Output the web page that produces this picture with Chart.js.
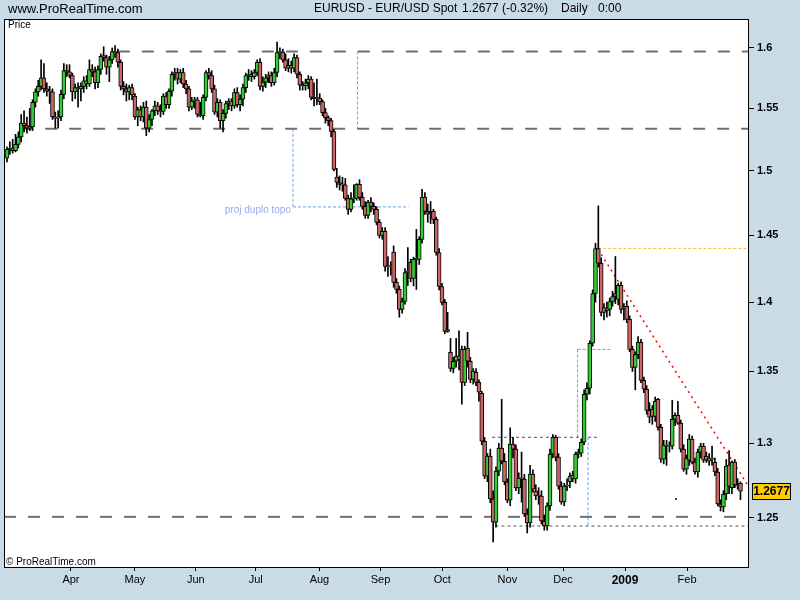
<!DOCTYPE html>
<html lang="en">
<head>
    <meta charset="UTF-8">
    <title>EURUSD - EUR/USD Spot Daily</title>
    <script src="https://cdn.jsdelivr.net/npm/chart.js"></script>
    <style>
        html, body { margin: 0; padding: 0; background: #c9dbe6; }
        #wrap { width: 800px; height: 600px; }
    </style>
</head>
<body>
<div id="wrap"><canvas id="priceChart" width="800" height="600"></canvas></div>
<script>
    // Daily candles (roughly Mar 2008 .. Feb 2009)
    const openP = [
        1.5100,1.5170,1.5180,1.5160,1.5210,1.5270,1.5380,1.5360,1.5340,1.5350,
        1.5550,1.5635,1.5680,1.5750,1.5660,1.5640,1.5635,1.5430,1.5420,1.5430,
        1.5615,1.5810,1.5800,1.5770,1.5635,1.5670,1.5660,1.5680,1.5725,1.5700,
        1.5820,1.5800,1.5710,1.5820,1.5935,1.5920,1.5840,1.5900,1.5970,1.5960,
        1.5880,1.5680,1.5660,1.5635,1.5670,1.5600,1.5430,1.5490,1.5430,1.5510,
        1.5340,1.5410,1.5480,1.5520,1.5480,1.5475,1.5600,1.5530,1.5640,1.5780,
        1.5795,1.5740,1.5795,1.5700,1.5660,1.5510,1.5560,1.5570,1.5450,1.5440,
        1.5590,1.5795,1.5770,1.5660,1.5470,1.5550,1.5400,1.5460,1.5540,1.5560,
        1.5520,1.5630,1.5530,1.5575,1.5670,1.5770,1.5780,1.5760,1.5795,1.5880,
        1.5680,1.5715,1.5750,1.5770,1.5710,1.5795,1.5960,1.5965,1.5900,1.5830,
        1.5855,1.5830,1.5920,1.5780,1.5690,1.5685,1.5710,1.5740,1.5590,1.5580,
        1.5585,1.5555,1.5465,1.5425,1.5400,1.5313,1.4950,1.4908,1.4893,1.4890,
        1.4784,1.4699,1.4780,1.4785,1.4893,1.4792,1.4722,1.4653,1.4755,1.4722,
        1.4699,1.4599,1.4500,1.4530,1.4265,1.4262,1.4374,1.4146,1.4094,1.3947,
        1.4005,1.4220,1.4296,1.4176,1.4318,1.4318,1.4469,1.4795,1.4684,1.4662,
        1.4684,1.4622,1.4370,1.4116,1.3998,1.3787,1.3636,1.3522,1.3572,1.3610,
        1.3657,1.3423,1.3664,1.3572,1.3444,1.3494,1.3423,1.3346,1.3014,1.2778,
        1.2912,1.2625,1.2473,1.2811,1.2967,1.2878,1.2738,1.2618,1.2994,1.2960,
        1.2698,1.2765,1.2758,1.2526,1.2467,1.2791,1.2678,1.2645,1.2645,1.2480,
        1.2447,1.2579,1.2926,1.3041,1.2906,1.2711,1.2605,1.2711,1.2740,1.2785,
        1.2758,1.2926,1.2933,1.3007,1.3339,1.3381,1.3701,1.4064,1.4400,1.4289,
        1.3961,1.3940,1.3947,1.4005,1.4064,1.4020,1.4124,1.3955,1.3970,1.3874,
        1.3657,1.3529,1.3620,1.3708,1.3437,1.3374,1.3227,1.3234,1.3185,1.3304,
        1.3110,1.2892,1.2987,1.2987,1.2980,1.3165,1.3193,1.3138,1.2960,1.2825,
        1.2885,1.3028,1.2872,1.2805,1.2940,1.2981,1.2912,1.2899,1.2892,1.2871,
        1.2805,1.2592,1.2572,1.2658,1.2852,1.2700,1.2872,1.2718,1.2730
    ];
    const highP = [
        1.5190,1.5230,1.5250,1.5290,1.5310,1.5450,1.5480,1.5430,1.5500,1.5570,
        1.5660,1.5730,1.5900,1.5870,1.5710,1.5680,1.5660,1.5470,1.5480,1.5650,
        1.5870,1.5860,1.5860,1.5790,1.5700,1.5710,1.5710,1.5760,1.5770,1.5900,
        1.5860,1.5840,1.5850,1.5950,1.6010,1.5940,1.5930,1.6000,1.6020,1.5990,
        1.5900,1.5720,1.5700,1.5690,1.5700,1.5620,1.5510,1.5520,1.5550,1.5560,
        1.5450,1.5490,1.5560,1.5550,1.5530,1.5620,1.5630,1.5660,1.5800,1.5830,
        1.5830,1.5820,1.5830,1.5730,1.5680,1.5590,1.5590,1.5590,1.5550,1.5610,
        1.5810,1.5830,1.5810,1.5690,1.5580,1.5570,1.5490,1.5560,1.5580,1.5580,
        1.5660,1.5670,1.5610,1.5700,1.5790,1.5820,1.5810,1.5820,1.5900,1.5910,
        1.5760,1.5780,1.5800,1.5800,1.5830,1.6050,1.6000,1.5990,1.5950,1.5910,
        1.5890,1.5950,1.5940,1.5800,1.5720,1.5740,1.5770,1.5760,1.5710,1.5740,
        1.5620,1.5570,1.5500,1.5440,1.5420,1.5330,1.5020,1.4960,1.4950,1.4940,
        1.4810,1.4830,1.4890,1.4900,1.4930,1.4830,1.4760,1.4770,1.4790,1.4750,
        1.4720,1.4620,1.4560,1.4560,1.4340,1.4300,1.4420,1.4175,1.4120,1.4030,
        1.4250,1.4408,1.4320,1.4335,1.4545,1.4490,1.4854,1.4830,1.4740,1.4760,
        1.4700,1.4640,1.4400,1.4140,1.4020,1.3925,1.3736,1.3600,1.3736,1.3790,
        1.3680,1.3680,1.3780,1.3600,1.3520,1.3520,1.3440,1.3360,1.3040,1.2930,
        1.2960,1.2680,1.2840,1.3000,1.3304,1.2930,1.2760,1.3106,1.3040,1.2990,
        1.2800,1.2940,1.2790,1.2560,1.2850,1.2820,1.2720,1.2700,1.2680,1.2520,
        1.2600,1.2960,1.3060,1.3055,1.2930,1.2740,1.2730,1.2760,1.2800,1.2810,
        1.2940,1.2960,1.3030,1.3370,1.3420,1.3720,1.4090,1.4440,1.4726,1.4330,
        1.3990,1.4000,1.4030,1.4080,1.4340,1.4140,1.4150,1.3990,1.4010,1.3900,
        1.3680,1.3640,1.3750,1.3730,1.3460,1.3400,1.3280,1.3260,1.3320,1.3310,
        1.3130,1.3020,1.3020,1.3010,1.3297,1.3210,1.3290,1.3160,1.2990,1.2920,
        1.3060,1.3050,1.2900,1.2960,1.3000,1.3000,1.2940,1.2930,1.2981,1.2900,
        1.2830,1.2620,1.2680,1.2890,1.2950,1.2880,1.2890,1.2760,1.2740
    ];
    const lowP = [
        1.5070,1.5130,1.5140,1.5150,1.5180,1.5230,1.5310,1.5300,1.5320,1.5320,
        1.5510,1.5600,1.5650,1.5630,1.5600,1.5540,1.5410,1.5340,1.5340,1.5400,
        1.5580,1.5760,1.5750,1.5560,1.5580,1.5510,1.5560,1.5630,1.5660,1.5680,
        1.5760,1.5660,1.5670,1.5780,1.5890,1.5780,1.5720,1.5870,1.5920,1.5840,
        1.5650,1.5610,1.5560,1.5570,1.5570,1.5410,1.5360,1.5400,1.5390,1.5280,
        1.5310,1.5360,1.5440,1.5450,1.5430,1.5450,1.5500,1.5500,1.5600,1.5730,
        1.5700,1.5710,1.5670,1.5620,1.5480,1.5490,1.5500,1.5430,1.5430,1.5410,
        1.5560,1.5740,1.5630,1.5450,1.5430,1.5340,1.5310,1.5420,1.5490,1.5480,
        1.5500,1.5510,1.5480,1.5520,1.5630,1.5730,1.5720,1.5740,1.5770,1.5650,
        1.5640,1.5670,1.5710,1.5680,1.5690,1.5760,1.5910,1.5880,1.5810,1.5800,
        1.5790,1.5800,1.5750,1.5650,1.5650,1.5650,1.5660,1.5570,1.5520,1.5530,
        1.5530,1.5440,1.5380,1.5360,1.5270,1.5000,1.4870,1.4850,1.4840,1.4770,
        1.4660,1.4680,1.4750,1.4770,1.4770,1.4700,1.4630,1.4630,1.4680,1.4660,
        1.4580,1.4480,1.4470,1.4230,1.4190,1.4200,1.4110,1.4065,1.3890,1.3920,
        1.3985,1.4124,1.4150,1.4120,1.4094,1.4280,1.4440,1.4660,1.4600,1.4590,
        1.4590,1.4350,1.4090,1.3980,1.3770,1.3780,1.3500,1.3490,1.3530,1.3510,
        1.3269,1.3400,1.3530,1.3420,1.3410,1.3400,1.3290,1.2990,1.2760,1.2740,
        1.2600,1.2344,1.2440,1.2780,1.2860,1.2720,1.2600,1.2580,1.2900,1.2680,
        1.2660,1.2605,1.2510,1.2402,1.2440,1.2670,1.2620,1.2590,1.2460,1.2420,
        1.2420,1.2550,1.2900,1.2880,1.2690,1.2590,1.2580,1.2680,1.2700,1.2740,
        1.2730,1.2900,1.2910,1.2990,1.3300,1.3340,1.3680,1.4000,1.4260,1.3900,
        1.3870,1.3890,1.3900,1.3970,1.3990,1.3980,1.3920,1.3870,1.3850,1.3640,
        1.3500,1.3370,1.3590,1.3420,1.3350,1.3200,1.3140,1.3130,1.3150,1.3090,
        1.2870,1.2860,1.2850,1.2940,1.2960,1.3120,1.3130,1.2940,1.2810,1.2790,
        1.2850,1.2860,1.2790,1.2770,1.2900,1.2870,1.2870,1.2850,1.2851,1.2780,
        1.2580,1.2546,1.2540,1.2620,1.2660,1.2660,1.2700,1.2690,1.2620
    ];
    const closeP = [
        1.5170,1.5180,1.5160,1.5210,1.5270,1.5380,1.5360,1.5340,1.5350,1.5550,
        1.5635,1.5680,1.5750,1.5660,1.5640,1.5635,1.5430,1.5420,1.5430,1.5615,
        1.5810,1.5800,1.5770,1.5635,1.5670,1.5660,1.5680,1.5725,1.5700,1.5820,
        1.5800,1.5710,1.5820,1.5930,1.5920,1.5840,1.5900,1.5970,1.5960,1.5880,
        1.5680,1.5660,1.5635,1.5670,1.5610,1.5430,1.5490,1.5430,1.5510,1.5340,
        1.5410,1.5480,1.5520,1.5480,1.5475,1.5600,1.5530,1.5640,1.5780,1.5795,
        1.5740,1.5795,1.5700,1.5660,1.5510,1.5560,1.5570,1.5450,1.5440,1.5590,
        1.5795,1.5770,1.5660,1.5470,1.5550,1.5400,1.5460,1.5540,1.5560,1.5520,
        1.5630,1.5530,1.5575,1.5670,1.5770,1.5780,1.5760,1.5795,1.5880,1.5680,
        1.5715,1.5750,1.5770,1.5710,1.5795,1.5960,1.5965,1.5900,1.5830,1.5855,
        1.5830,1.5920,1.5780,1.5690,1.5685,1.5710,1.5740,1.5590,1.5580,1.5585,
        1.5555,1.5465,1.5425,1.5400,1.5313,1.5011,1.4908,1.4893,1.4890,1.4784,
        1.4699,1.4780,1.4785,1.4893,1.4792,1.4722,1.4653,1.4755,1.4722,1.4699,
        1.4599,1.4500,1.4530,1.4265,1.4262,1.4265,1.4146,1.4094,1.3947,1.4005,
        1.4220,1.4230,1.4176,1.4318,1.4325,1.4469,1.4795,1.4684,1.4662,1.4676,
        1.4622,1.4370,1.4116,1.3998,1.3787,1.3800,1.3522,1.3572,1.3610,1.3586,
        1.3423,1.3657,1.3572,1.3444,1.3501,1.3423,1.3353,1.3014,1.2778,1.2912,
        1.2625,1.2473,1.2811,1.2967,1.2878,1.2738,1.2618,1.2994,1.2960,1.2698,
        1.2765,1.2758,1.2526,1.2467,1.2791,1.2691,1.2645,1.2650,1.2480,1.2447,
        1.2579,1.2926,1.3041,1.2906,1.2711,1.2605,1.2711,1.2715,1.2778,1.2758,
        1.2926,1.2940,1.3007,1.3339,1.3381,1.3701,1.4064,1.4400,1.4289,1.3925,
        1.3925,1.3950,1.4005,1.4042,1.4042,1.4124,1.3947,1.3970,1.3874,1.3657,
        1.3529,1.3620,1.3708,1.3437,1.3374,1.3227,1.3179,1.3185,1.3290,1.3110,
        1.2892,1.2987,1.2980,1.2980,1.3165,1.3193,1.3138,1.2960,1.2825,1.2899,
        1.3028,1.2872,1.2805,1.2940,1.2981,1.2885,1.2885,1.2878,1.2898,1.2805,
        1.2592,1.2572,1.2658,1.2845,1.2711,1.2872,1.2718,1.2712,1.2677
    ];

    // axis labels: month names sit at the first session of each month (candle index)
    const monthLabels = ['Apr', 'May', 'Jun', 'Jul', 'Aug', 'Sep', 'Oct', 'Nov', 'Dec', '2009', 'Feb'];
    const monthIndex = [22.5, 45, 66.4, 87.5, 109.9, 131.4, 153.1, 176, 195.6, 217.4, 239.2];
    const priceTicks = [1.25, 1.3, 1.35, 1.4, 1.45, 1.5, 1.55, 1.6];
    const xRange = [-1.05, 261];
    const yRange = [1.2182, 1.6245];

    // hand drawn lines, as [candle index, price] pairs
    const longDashLines = [
        [[39, 1.5970], [261, 1.5970]],
        [[5, 1.5335], [261, 1.5335]],
        [[-1.05, 1.2507], [261, 1.2507]]
    ];
    const shortDashLines = [
        [[170.6, 1.3041], [207.5, 1.3041]],
        [[171.8, 1.2447], [261, 1.2447]]
    ];
    const blueLines = [
        [[123.3, 1.5970], [123.3, 1.5335]],
        [[100.6, 1.5335], [100.6, 1.4718]],
        [[100.6, 1.4718], [141.2, 1.4718]],
        [[200.7, 1.3657], [200.7, 1.3041]],
        [[200.7, 1.3657], [212.2, 1.3657]],
        [[204.4, 1.3041], [204.4, 1.2447]]
    ];
    const orangeLine = [[208, 1.4401], [261, 1.4401]];
    const redTrend = [[207.9, 1.4393], [261, 1.2705]];
    const strayDot = [235.3, 1.2625];
    const projLabel = ['proj duplo topo', 100.6, 1.4718];

    const headerLeft = 'www.ProRealTime.com';
    const headerTitle = 'EURUSD - EUR/USD Spot';
    const headerQuote = '1.2677 (-0.32%)';
    const headerPeriod = 'Daily';
    const headerTime = '0:00';

    const FONT = 'Arial, "Liberation Sans", sans-serif';
    const UP = '#33cc33';
    const DOWN = '#cc6666';

    const bodies = openP.map((o, i) => ({ x: i, y: [o, closeP[i]] }));
    const wicks = lowP.map((l, i) => ({ x: i, y: [l, highP[i]] }));
    const bodyColors = openP.map((o, i) => closeP[i] >= o ? UP : DOWN);

    const toPts = seg => seg.map(p => ({ x: p[0], y: p[1] }));
    function lineSet(seg, color, width, dash) {
        return {
            type: 'line',
            data: toPts(seg),
            borderColor: color,
            borderWidth: width,
            borderDash: dash,
            pointRadius: 0,
            fill: false,
            tension: 0,
            order: 2
        };
    }

    const datasets = [
        {
            label: 'body',
            data: bodies,
            backgroundColor: bodyColors,
            borderColor: '#000',
            borderWidth: 1,
            borderSkipped: false,
            barThickness: 4,
            minBarLength: 1,
            grouped: false,
            order: 0
        },
        {
            label: 'wick',
            data: wicks,
            backgroundColor: '#000',
            borderWidth: 0,
            barThickness: 1,
            grouped: false,
            order: 1
        }
    ];
    longDashLines.forEach(s => datasets.push(lineSet(s, '#707070', 2, [12, 12])));
    shortDashLines.forEach(s => datasets.push(lineSet(s, '#555', 1, [3, 3])));
    blueLines.forEach(s => datasets.push(lineSet(s, '#6a9cf5', 1, [3, 2])));
    datasets.push(lineSet(orangeLine, '#ffb733', 1, [3, 2]));
    datasets.push(lineSet(redTrend, '#ff0000', 1.5, [2, 4]));
    datasets.push({
        type: 'scatter',
        data: [{ x: strayDot[0], y: strayDot[1] }],
        pointRadius: 1,
        pointBackgroundColor: '#000',
        pointBorderWidth: 0,
        order: 2
    });

    // page frame, header texts, last price tag
    const framePlugin = {
        id: 'frame',
        beforeDraw(chart) {
            const c = chart.ctx, a = chart.chartArea;
            c.save();
            c.fillStyle = '#c9dbe6';
            c.fillRect(0, 0, chart.width, chart.height);
            c.fillStyle = '#fff';
            c.fillRect(a.left, a.top, a.right - a.left, a.bottom - a.top);
            c.restore();
        },
        afterDraw(chart) {
            const c = chart.ctx, a = chart.chartArea;
            const xs = chart.scales.x, ys = chart.scales.y;
            c.save();
            c.strokeStyle = '#000';
            c.lineWidth = 1;
            c.strokeRect(a.left + 0.5, a.top + 0.5, a.right - a.left - 1, a.bottom - a.top);

            c.fillStyle = '#000';
            c.textBaseline = 'middle';
            c.font = '13px ' + FONT;
            c.fillText(headerLeft, 8, 9);
            c.font = '12px ' + FONT;
            c.fillText(headerTitle, 314, 9);
            c.fillText(headerQuote, 462, 9);
            c.fillText(headerPeriod, 561, 9);
            c.fillText(headerTime, 598, 9);

            c.font = '10px ' + FONT;
            c.fillText('Price', a.left + 4, a.top + 6);
            c.fillText('\u00A9 ProRealTime.com', a.left + 2, a.bottom - 5);

            // projection label
            c.fillStyle = '#9aaaf0';
            c.font = '10px ' + FONT;
            c.textAlign = 'right';
            c.fillText(projLabel[0], xs.getPixelForValue(projLabel[1]) - 2, ys.getPixelForValue(projLabel[2]) + 3);

            // last price tag
            const last = closeP[closeP.length - 1];
            const py = Math.round(ys.getPixelForValue(last));
            c.fillStyle = '#ffcc00';
            c.fillRect(a.right + 3.5, py - 7.5, 38, 16);
            c.strokeRect(a.right + 3.5, py - 7.5, 38, 16);
            c.fillStyle = '#000';
            c.textAlign = 'center';
            c.font = 'bold 12px ' + FONT;
            c.fillText(last.toFixed(4), a.right + 22.5, py + 1);
            c.restore();
        }
    };

    new Chart(document.getElementById('priceChart'), {
        type: 'bar',
        data: { datasets: datasets },
        options: {
            responsive: false,
            animation: false,
            layout: { padding: { left: 3, top: 19, right: 0, bottom: 0 } },
            plugins: { legend: { display: false }, tooltip: { enabled: false } },
            scales: {
                x: {
                    type: 'linear',
                    min: xRange[0],
                    max: xRange[1],
                    offset: false,
                    border: { display: false },
                    grid: { drawOnChartArea: false, offset: false, color: '#000', tickLength: 4 },
                    afterBuildTicks: s => { s.ticks = monthIndex.map(v => ({ value: v })); },
                    afterFit: s => { s.height = 33; },
                    ticks: {
                        autoSkip: false,
                        maxRotation: 0,
                        padding: 2,
                        color: '#000',
                        callback: (v, i) => monthLabels[i],
                        font: ctx => monthLabels[ctx.index] === '2009'
                            ? { family: FONT, size: 12, weight: 'bold' }
                            : { family: FONT, size: 11 }
                    }
                },
                y: {
                    type: 'logarithmic',
                    position: 'right',
                    min: yRange[0],
                    max: yRange[1],
                    border: { display: false },
                    grid: { drawOnChartArea: false, color: '#000', tickLength: 5 },
                    afterBuildTicks: s => { s.ticks = priceTicks.map(v => ({ value: v })); },
                    afterFit: s => { s.width = 51; },
                    ticks: {
                        padding: 3,
                        color: '#000',
                        font: { family: FONT, size: 11, weight: 'bold' },
                        callback: v => String(v)
                    }
                }
            }
        },
        plugins: [framePlugin]
    });
</script>
</body>
</html>
